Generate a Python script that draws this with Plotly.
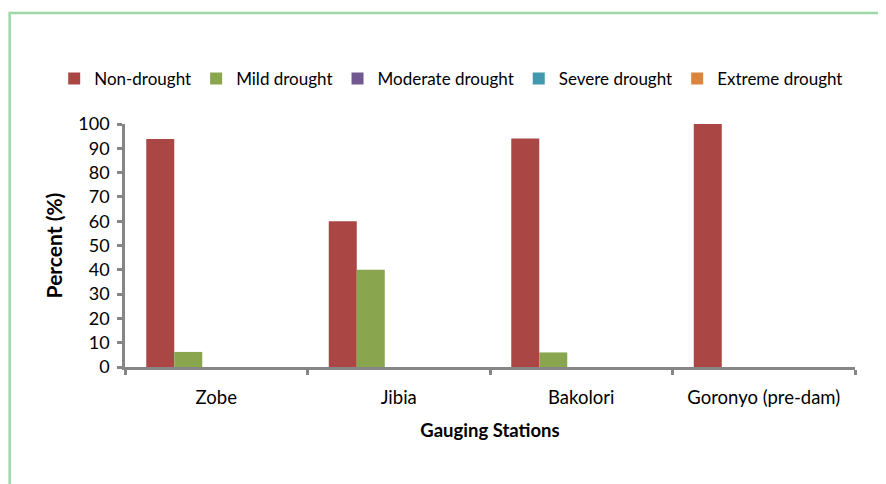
import plotly.graph_objects as go

stations = ["Zobe", "Jibia", "Bakolori", "Goronyo (pre-dam)"]
series_names = ["Non-drought", "Mild drought", "Moderate drought", "Severe drought", "Extreme drought"]
non_drought = [93.8, 60, 94, 100]
mild_drought = [6.2, 40, 6, 0]
moderate_drought = [0, 0, 0, 0]
severe_drought = [0, 0, 0, 0]
extreme_drought = [0, 0, 0, 0]
y_ticks = [0, 10, 20, 30, 40, 50, 60, 70, 80, 90, 100]

colors = ["#AA4643", "#89A54E", "#71588F", "#4198AF", "#DB843D"]
values = [non_drought, mild_drought, moderate_drought, severe_drought, extreme_drought]

fig = go.Figure()
for name, vals, col in zip(series_names, values, colors):
    fig.add_trace(go.Bar(x=stations, y=vals, name=name, marker=dict(color=col, line=dict(width=0))))

axis_col = "#868686"
# page body has an 8px margin, so margins are shifted to line up with the reference
fig.update_layout(
    width=886, height=484,
    barmode="group", bargap=0.233, bargroupgap=0,
    paper_bgcolor="white", plot_bgcolor="white",
    font=dict(family="Lato, Carlito, sans-serif", size=18, color="black"),
    margin=dict(l=117, r=39, t=116, b=125),
    showlegend=True,
    # anchored left of the plot area so the single row may use the left margin too
    legend=dict(orientation="h", x=-0.097, xanchor="left", y=1.185, yanchor="middle",
                font=dict(size=17), itemwidth=30, traceorder="normal"),
    xaxis=dict(showline=True, linecolor=axis_col, linewidth=2.5, ticks="outside",
               tickson="boundaries", ticklen=5, tickwidth=2.5, tickcolor=axis_col,
               tickfont=dict(size=18.5), ticklabelstandoff=12,
               title=dict(text="<b>Gauging Stations</b>", font=dict(size=18.5), standoff=18)),
    yaxis=dict(range=[0, 100], tickvals=y_ticks, showgrid=False, zeroline=False,
               showline=True, linecolor=axis_col, linewidth=2.5, ticks="outside",
               ticklen=5, tickwidth=2.5, tickcolor=axis_col, tickfont=dict(size=18),
               ticklabelstandoff=4,
               title=dict(text="<b>Percent (%)</b>", font=dict(size=21), standoff=10)),
    shapes=[dict(type="rect", xref="paper", yref="paper", x0=-0.158, x1=1.2, y0=-0.6, y1=1.457,
                 line=dict(color="#9DD8A6", width=2.5), fillcolor="rgba(0,0,0,0)", layer="below")],
)

fig.write_html("out.html")
